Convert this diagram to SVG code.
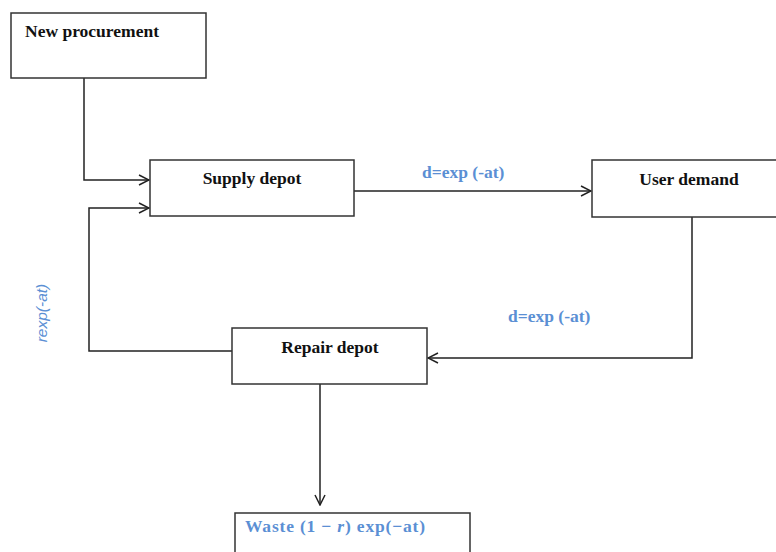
<svg xmlns="http://www.w3.org/2000/svg" width="776" height="552" viewBox="0 0 776 552">
<style>
.box{fill:#fff;stroke:#333;stroke-width:1.5}
.lbl{font-family:"Liberation Serif",serif;font-weight:bold;font-size:17.5px;fill:#111}
.blue{font-family:"Liberation Serif",serif;font-weight:bold;font-size:17.5px;fill:#5b8fd4}
.conn{fill:none;stroke:#222;stroke-width:1.5}
</style>
<defs>
<marker id="arr" viewBox="0 0 12 12" refX="11" refY="6" markerWidth="12" markerHeight="12" markerUnits="userSpaceOnUse" orient="auto">
<polyline points="1,1 11,6 1,11" fill="none" stroke="#222" stroke-width="1.5"/>
</marker>
</defs>
<rect width="776" height="552" fill="#fff"/>
<g id="connectors">
<polyline class="conn" points="84,78 84,180 149,180" marker-end="url(#arr)"/>
<polyline class="conn" points="232,351 89,351 89,208 149,208" marker-end="url(#arr)"/>
<polyline class="conn" points="354,191 591,191" marker-end="url(#arr)"/>
<polyline class="conn" points="692,217 692,358 428,358" marker-end="url(#arr)"/>
<polyline class="conn" points="320,384 320,505" marker-end="url(#arr)"/>
<text class="blue" x="422" y="178">d=exp (-at)</text>
<text class="blue" x="508" y="322">d=exp (-at)</text>
<text x="47" y="313" transform="rotate(-90 47 313)" text-anchor="middle" font-family="'Liberation Sans',sans-serif" font-style="italic" font-size="15.5" fill="#5b8fd4">rexp(-at)</text>
</g>
<g id="new-procurement">
<rect class="box" x="11" y="13" width="195" height="65"/>
<text class="lbl" x="25" y="37">New procurement</text>
</g>
<g id="supply-depot">
<rect class="box" x="150" y="160" width="204" height="56"/>
<text class="lbl" x="252" y="184" text-anchor="middle">Supply depot</text>
</g>
<g id="user-demand">
<rect class="box" x="592" y="160" width="190" height="57"/>
<text class="lbl" x="689" y="185" text-anchor="middle">User demand</text>
</g>
<g id="repair-depot">
<rect class="box" x="232" y="328" width="195" height="56"/>
<text class="lbl" x="330" y="353" text-anchor="middle">Repair depot</text>
</g>
<g id="waste">
<rect class="box" x="235" y="513" width="235" height="45"/>
<text class="blue" x="245" y="532" textLength="180" lengthAdjust="spacing">Waste (1 − <tspan font-style="italic">r</tspan>) exp(−at)</text>
</g>
</svg>
